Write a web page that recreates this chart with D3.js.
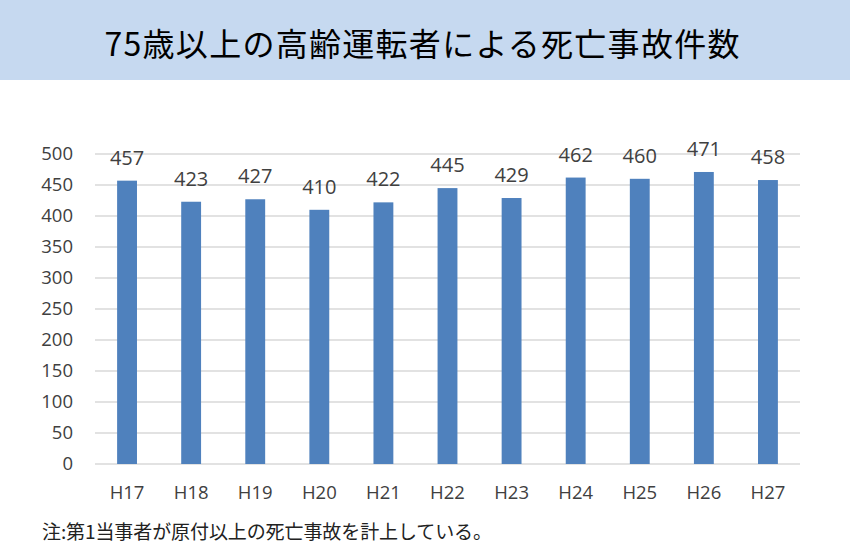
<!DOCTYPE html>
<html>
<head>
<meta charset="utf-8">
<script src="https://cdn.jsdelivr.net/npm/d3@7"></script>
<style>
  body { margin: 0; background: #fff; }
  svg { display: block; }
</style>
</head>
<body>
<div id="chart"></div>
<script>
const titleText = "75歳以上の高齢運転者による死亡事故件数"
const noteText = "注:第1当事者が原付以上の死亡事故を計上している。"
const years = ["H17", "H18", "H19", "H20", "H21", "H22", "H23", "H24", "H25", "H26", "H27"]
const deaths = [457, 423, 427, 410, 422, 445, 429, 462, 460, 471, 458]
const yTicks = [0, 50, 100, 150, 200, 250, 300, 350, 400, 450, 500]

const width = 850
const height = 556
const margin = { left: 95, right: 50, top: 154, bottom: 92 }
const latin = "'Open Sans', 'Noto Sans', sans-serif"
const cjk = "'Noto Sans CJK JP', sans-serif"

const svg = d3.select("#chart")
  .append("svg")
  .attr("width", width)
  .attr("height", height)

// title band
svg.append("rect")
  .attr("x", 0).attr("y", 0)
  .attr("width", width).attr("height", 80)
  .attr("fill", "#c6d9f0")

svg.append("text")
  .attr("x", 422)
  .attr("y", 56)
  .attr("text-anchor", "middle")
  .attr("font-family", cjk)
  .attr("font-size", 32)
  .attr("font-weight", 400)
  .attr("fill", "#000")
  .attr("textLength", 635)
  .attr("lengthAdjust", "spacing")
  .text(titleText)

const x = d3.scaleBand()
  .domain(years)
  .range([margin.left, width - margin.right])
  .paddingInner(0.69)
  .paddingOuter(0.345)

const y = d3.scaleLinear()
  .domain([0, 500])
  .range([height - margin.bottom, margin.top])

// gridlines
svg.append("g")
  .selectAll("line")
  .data(yTicks)
  .enter()
  .append("line")
  .attr("x1", margin.left)
  .attr("x2", width - margin.right)
  .attr("y1", d => y(d))
  .attr("y2", d => y(d))
  .attr("stroke", "#d9d9d9")
  .attr("stroke-width", 1.3)

// y axis labels
const yAxis = svg.append("g")
  .attr("transform", "translate(" + (margin.left - 22) + ",0)")
  .call(d3.axisLeft(y).tickValues(yTicks).tickSize(0).tickPadding(0))
yAxis.select(".domain").remove()
yAxis.selectAll("text")
  .attr("font-family", latin)
  .attr("font-size", 18.5)
  .attr("fill", "#404040")

// x axis labels
const xAxis = svg.append("g")
  .attr("transform", "translate(0," + (height - margin.bottom) + ")")
  .call(d3.axisBottom(x).tickSize(0).tickPadding(22))
xAxis.select(".domain").remove()
xAxis.selectAll("text")
  .attr("font-family", latin)
  .attr("font-size", 18.5)
  .attr("fill", "#404040")

// bars
svg.selectAll(".bar")
  .data(deaths)
  .enter()
  .append("rect")
  .attr("class", "bar")
  .attr("x", (d, i) => x(years[i]))
  .attr("y", d => y(d))
  .attr("width", x.bandwidth())
  .attr("height", d => y(0) - y(d))
  .attr("fill", "#4f81bd")

// value labels
svg.selectAll(".val")
  .data(deaths)
  .enter()
  .append("text")
  .attr("class", "val")
  .attr("x", (d, i) => x(years[i]) + x.bandwidth() / 2)
  .attr("y", d => y(d) - 16)
  .attr("text-anchor", "middle")
  .attr("font-family", latin)
  .attr("font-size", 20)
  .attr("fill", "#404040")
  .text(d => d)

// footnote
svg.append("text")
  .attr("x", 42)
  .attr("y", 539)
  .attr("font-family", cjk)
  .attr("font-size", 19)
  .attr("fill", "#222")
  .attr("textLength", 450)
  .attr("lengthAdjust", "spacing")
  .text(noteText)
</script>
</body>
</html>
